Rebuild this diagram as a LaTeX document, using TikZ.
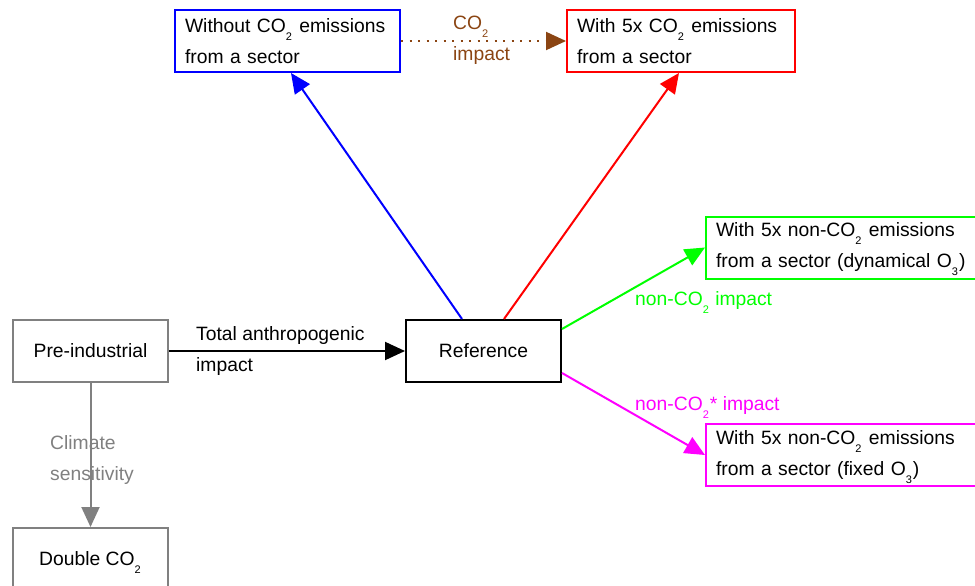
\documentclass[tikz,border=0pt]{standalone}
\usepackage{fontspec}
\setmainfont{Liberation Sans}
\usetikzlibrary{arrows.meta}
\newcommand\mysub[1]{\smash{\raisebox{-8pt}{\fontsize{11}{11}\selectfont #1}}\kern1pt\relax}
\definecolor{cbrown}{RGB}{139,69,19}
\definecolor{cgray}{RGB}{128,128,128}
\definecolor{cmag}{RGB}{255,0,255}
\definecolor{cgreen}{RGB}{0,255,0}
\definecolor{cblue}{RGB}{0,0,255}
\definecolor{cred}{RGB}{255,0,0}
\begin{document}
\begin{tikzpicture}[x=1pt,y=-1pt,
  font=\fontsize{19.3}{31}\selectfont,
  box/.style={draw,line width=2pt,fill=white,minimum height=62pt,inner xsep=10pt,inner ysep=0pt},
  onebox/.style={box,minimum width=155pt,align=center},
  twobox/.style={box,align=left},
  conn/.style={line width=2pt,-{Triangle[length=20pt,width=18pt]}},
  lbl/.style={inner sep=0pt,align=left}]
\useasboundingbox (0,0) rectangle (975,586);
\clip (0,0) rectangle (975,586);

\node[onebox,draw=cgray] (pre) at (90.5,351) {Pre-industrial};
\node[onebox,draw=black] (ref) at (483.5,351) {Reference};
\node[onebox,draw=cgray] (dbl) at (90.5,559) {Double CO\mysub{2}};
\node[twobox,draw=cblue,minimum width=225pt,text width=205pt] (wo) at (287.5,41)
  {Without CO\mysub{2} emissions\\from a sector};
\node[twobox,draw=cred,minimum width=228pt,text width=208pt] (w5) at (681,41)
  {With 5x CO\mysub{2} emissions\\from a sector};
\node[twobox,draw=cgreen,minimum width=276pt,text width=256pt] (gr) at (844,247.5)
  {With 5x non-CO\mysub{2} emissions\\from a sector (dynamical O\mysub{3})};
\node[twobox,draw=cmag,minimum width=276pt,text width=256pt] (mg) at (844,455)
  {With 5x non-CO\mysub{2} emissions\\from a sector (fixed O\mysub{3})};

\draw[conn,black] (pre.east) -- (ref.west);
\draw[conn,cgray] (pre.south) -- (dbl.north);
\draw[conn,cblue] ([xshift=57pt]ref.north west) -- ([xshift=117pt]wo.south west);
\draw[conn,cred] ([xshift=99pt]ref.north west) -- ([xshift=113pt]w5.south west);
\draw[conn,cgreen] ([yshift=-10pt]ref.north east) -- (gr.west);
\draw[conn,cmag] ([yshift=10pt]ref.south east) -- (mg.west);
\draw[conn,cbrown,dash pattern=on 2pt off 6.5pt] (wo.east) -- (w5.west);

\node[lbl,anchor=west] (lta) at ([xshift=27pt]pre.east) {Total anthropogenic\\impact};
\node[lbl,anchor=west,text=cgray] (lcs) at (50,460) {Climate\\sensitivity};
\node[lbl,anchor=west,text=cbrown] (lco) at (453,40) {CO\mysub{2}\\impact};
\node[lbl,anchor=base west,text=cgreen] (lng) at (635,305) {non-CO\mysub{2} impact};
\node[lbl,anchor=base west,text=cmag] (lnm) at (635,410) {non-CO\mysub{2}* impact};
\end{tikzpicture}
\end{document}
